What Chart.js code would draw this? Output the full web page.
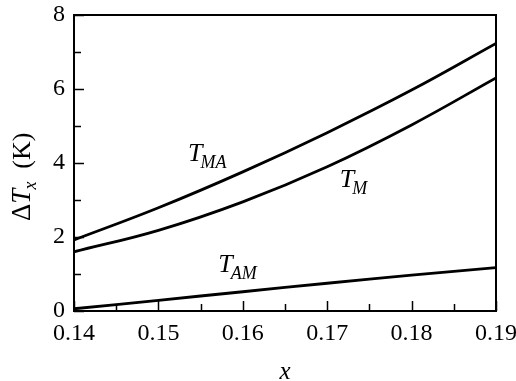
<!DOCTYPE html>
<html><head><meta charset="utf-8">
<script src="https://cdn.jsdelivr.net/npm/chart.js@4/dist/chart.umd.min.js"></script>
<style>html,body{margin:0;padding:0;background:#fff}#wrap{width:516px;height:381px;position:relative}
.pre{font-family:"Liberation Serif";position:absolute;left:-999px;top:0}</style>
</head><body><div id="wrap"><canvas id="c" width="516" height="381"></canvas></div>
<span class="pre">0.1 <i>T</i></span>
<script>
const xValues = [0.14, 0.15, 0.16, 0.17, 0.18, 0.19];
const tMA = [1.92, 2.79, 3.76, 4.82, 5.97, 7.23];
const tM  = [1.60, 2.18, 2.95, 3.90, 5.03, 6.30];
const tAM = [0.06, 0.29, 0.52, 0.75, 0.97, 1.17];
const xTickValues = [0.14, 0.15, 0.16, 0.17, 0.18, 0.19];
const xTickLabels = ['0.14', '0.15', '0.16', '0.17', '0.18', '0.19'];
const xMinorTicks = [0.145, 0.155, 0.165, 0.175, 0.185];
const yTickValues = [0, 2, 4, 6, 8];
const yTickLabels = ['0', '2', '4', '6', '8'];
const yMinorTicks = [1, 3, 5, 7];
const curveLabels = [
  {main: 'T', sub: 'MA', x: 0.1535, y: 4.05},
  {main: 'T', sub: 'M', x: 0.1715, y: 3.35},
  {main: 'T', sub: 'AM', x: 0.1571, y: 1.05}
];

const SERIF = '"Liberation Serif", "Times New Roman", Tinos, Times, serif';

function pts(ys) { return xValues.map((x, i) => ({x: x, y: ys[i]})); }
function ds(ys) {
  return {data: pts(ys), borderColor: '#000', borderWidth: 2.8, pointRadius: 0,
          fill: false, tension: 0.4};
}

const decor = {
  id: 'decor',
  afterDraw(chart) {
    const ctx = chart.ctx, a = chart.chartArea;
    const xs = chart.scales.x, ys = chart.scales.y;
    ctx.save();
    ctx.strokeStyle = '#000';
    ctx.lineWidth = 2;
    ctx.strokeRect(a.left, a.top, a.right - a.left, a.bottom - a.top);
    ctx.lineWidth = 1.5;
    ctx.beginPath();
    xTickValues.forEach(v => { const p = Math.round(xs.getPixelForValue(v)) + 0.5; ctx.moveTo(p, a.bottom); ctx.lineTo(p, a.bottom - 10); });
    xMinorTicks.forEach(v => { const p = Math.round(xs.getPixelForValue(v)) + 0.5; ctx.moveTo(p, a.bottom); ctx.lineTo(p, a.bottom - 7); });
    yTickValues.forEach(v => { const p = Math.round(ys.getPixelForValue(v)) + 0.5; ctx.moveTo(a.left, p); ctx.lineTo(a.left + 10, p); });
    yMinorTicks.forEach(v => { const p = Math.round(ys.getPixelForValue(v)) + 0.5; ctx.moveTo(a.left, p); ctx.lineTo(a.left + 7, p); });
    ctx.stroke();

    ctx.fillStyle = '#000';
    ctx.textBaseline = 'alphabetic';
    ctx.textAlign = 'left';
    curveLabels.forEach(l => {
      const px = xs.getPixelForValue(l.x), py = ys.getPixelForValue(l.y);
      ctx.font = 'italic 26px ' + SERIF;
      ctx.fillText(l.main, px, py);
      const w = ctx.measureText(l.main).width;
      ctx.font = 'italic 18px ' + SERIF;
      ctx.fillText(l.sub, px + w - 2, py + 6.5);
    });

    // x axis title
    ctx.font = 'italic 25px ' + SERIF;
    ctx.textAlign = 'center';
    ctx.fillText('x', (a.left + a.right) / 2, 379);

    // y axis title (rotated)
    ctx.save();
    ctx.translate(30, 221);
    ctx.rotate(-Math.PI / 2);
    ctx.textAlign = 'left';
    let cx = 0;
    ctx.font = '27px ' + SERIF;
    ctx.fillText('\u0394', cx, 0); cx += ctx.measureText('\u0394').width;
    ctx.font = 'italic 27px ' + SERIF;
    ctx.fillText('T', cx, 0); cx += ctx.measureText('T').width - 1;
    ctx.font = 'italic 18px ' + SERIF;
    ctx.fillText('x', cx, 6); cx += ctx.measureText('x').width;
    ctx.font = '26px ' + SERIF;
    ctx.fillText('  (K)', cx, 0);
    ctx.restore();
    ctx.restore();
  }
};

function build() {
  new Chart(document.getElementById('c'), {
    type: 'line',
    data: { datasets: [ds(tMA), ds(tM), ds(tAM)] },
    options: {
      responsive: false, animation: false, devicePixelRatio: 1,
      layout: { padding: { top: 15, right: 20, left: 0, bottom: 0 } },
      plugins: { legend: { display: false }, tooltip: { enabled: false } },
      scales: {
        x: {
          type: 'linear', min: 0.14, max: 0.19,
          afterBuildTicks: s => { s.ticks = xTickValues.map(v => ({value: v})); },
          afterFit: s => { s.height = 70; s.paddingLeft = 0; s.paddingRight = 0; },
          grid: { display: false, drawTicks: false },
          border: { display: false },
          ticks: { color: '#000', padding: 8, maxRotation: 0, font: { family: SERIF, size: 24 },
                   callback: (v) => xTickLabels[xTickValues.findIndex(t => Math.abs(t - v) < 1e-9)] }
        },
        y: {
          type: 'linear', min: 0, max: 8,
          afterBuildTicks: s => { s.ticks = yTickValues.map(v => ({value: v})); },
          afterFit: s => { s.width = 74; s.paddingTop = 0; s.paddingBottom = 0; },
          grid: { display: false, drawTicks: false },
          border: { display: false },
          ticks: { color: '#000', padding: 9, font: { family: SERIF, size: 24 },
                   callback: (v) => yTickLabels[yTickValues.indexOf(v)] }
        }
      }
    },
    plugins: [decor]
  });
}
const fl = [document.fonts.load('24px "Liberation Serif"'), document.fonts.load('italic 24px "Liberation Serif"')];
Promise.all(fl).then(build, build);
</script>
</body></html>
